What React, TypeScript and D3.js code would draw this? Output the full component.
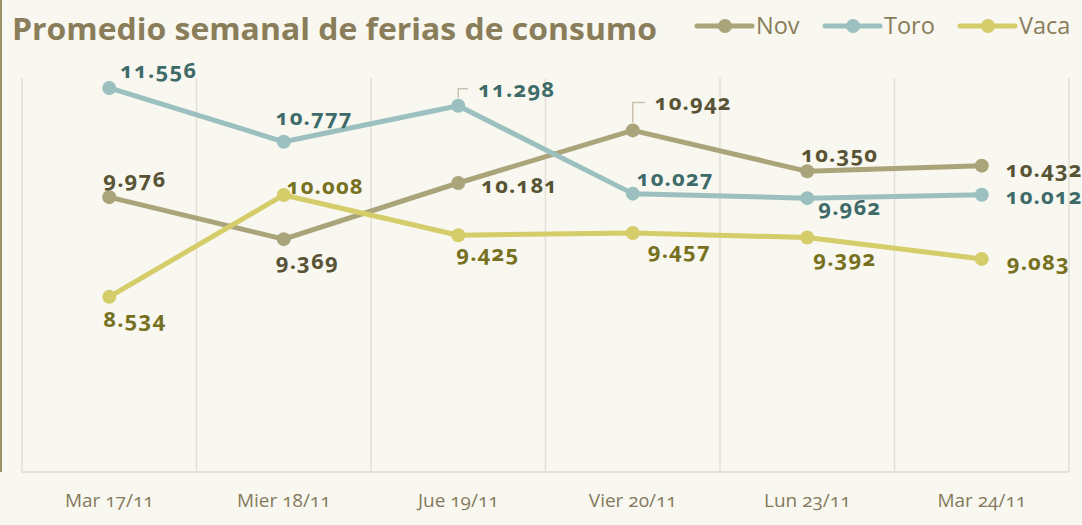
import React from "react";
import * as d3 from "d3";

const categories = ["Mar 17/11", "Mier 18/11", "Jue 19/11", "Vier 20/11", "Lun 23/11", "Mar 24/11"];
const seriesNames = ["Nov", "Toro", "Vaca"];
const novValues = [9976, 9369, 10181, 10942, 10350, 10432];
const toroValues = [11556, 10777, 11298, 10027, 9962, 10012];
const vacaValues = [8534, 10008, 9425, 9457, 9392, 9083];

const W = 1082, H = 525;
const FONT = "'Open Sans', 'Noto Sans', sans-serif";

// label offsets [dx (start of text), dy (baseline)] relative to point
const labelPos: Record<string, [number, number][]> = {
  Nov: [[-6, -10], [-8, 30], [23, 10], [22, -20], [-6, -9], [24, 11]],
  Toro: [[11, -10], [-8, -17], [20, -9], [4, -8], [11, 17], [24, 9]],
  Vaca: [[-6, 30], [3, -1], [-2, 26], [15, 25], [6, 28], [25, 11]],
};
const leader: Record<string, boolean[]> = {
  Nov: [false, false, false, true, false, false],
  Toro: [false, false, true, false, false, false],
  Vaca: [false, false, false, false, false, false],
};

const lineColors = ["#a9a479", "#9cc0bf", "#d5cc6a"];
const labelColors = ["#575334", "#3e6a69", "#77711f"];

export default function App() {
  const x = d3.scaleBand<string>().domain(categories).range([22, 1069]);
  const y = d3.scaleLinear().domain([6000, 11700]).range([472, 78]);
  const fmt = (v: number) => d3.format(",")(v).replace(/,/g, ".");
  const data = [novValues, toroValues, vacaValues];
  const line = d3
    .line<number>()
    .x((_, i) => (x(categories[i]) as number) + x.bandwidth() / 2)
    .y((d) => y(d));
  const gridXs = categories.map((c) => x(c) as number).concat([x.range()[1]]);
  const legendX = [697, 825, 960];

  return (
    <svg width={W} height={H} style={{ position: "absolute", left: 0, top: 0, fontFamily: FONT }}>
      <rect x={0} y={0} width={W} height={H} fill="#f8f7f0" />
      <line x1={1} x2={1} y1={0} y2={472} stroke="#9a9166" strokeWidth={2} />
      {gridXs.map((gx, i) => (
        <line key={i} x1={gx} x2={gx} y1={78} y2={472} stroke="#e2e0d8" strokeWidth={1.5} />
      ))}
      <line x1={22} x2={1069} y1={472} y2={472} stroke="#e2e0d8" strokeWidth={2} />
      {categories.map((c) => (
        <text
          key={c}
          x={(x(c) as number) + x.bandwidth() / 2}
          y={507}
          textAnchor="middle"
          fontSize={19}
          fill="#857a5c"
          style={{ fontVariantNumeric: "oldstyle-nums" }}
        >
          {c}
        </text>
      ))}
      <text x={12} y={40} fontSize={30} fontWeight="bold" fill="#8a7d5a" textLength={645} lengthAdjust="spacingAndGlyphs">
        Promedio semanal de ferias de consumo
      </text>
      {seriesNames.map((s, k) => (
        <g key={s}>
          <line x1={legendX[k]} x2={legendX[k] + 55} y1={26} y2={26} stroke={lineColors[k]} strokeWidth={5} strokeLinecap="round" />
          <circle cx={legendX[k] + 28} cy={26} r={7} fill={lineColors[k]} />
          <text x={legendX[k] + 59} y={34} fontSize={23.5} fill="#8a7d5a">
            {s}
          </text>
        </g>
      ))}
      {data.map((vals, k) => (
        <g key={seriesNames[k]}>
          <path d={line(vals) || ""} fill="none" stroke={lineColors[k]} strokeWidth={5} strokeLinejoin="round" />
          {vals.map((v, i) => {
            const cx = (x(categories[i]) as number) + x.bandwidth() / 2;
            const cy = y(v);
            return <circle key={i} cx={cx} cy={cy} r={7} fill={lineColors[k]} />;
          })}
        </g>
      ))}
      {data.map((vals, k) =>
        vals.map((v, i) => {
          const cx = (x(categories[i]) as number) + x.bandwidth() / 2;
          const cy = y(v);
          const [dx, dy] = labelPos[seriesNames[k]][i];
          const hasLeader = leader[seriesNames[k]][i];
          return (
            <g key={`${k}-${i}`}>
              {hasLeader && (
                <polyline
                  points={`${cx},${cy - 8} ${cx},${cy + dy - 8} ${cx + dx - 10},${cy + dy - 8}`}
                  fill="none"
                  stroke="#c9c2ae"
                  strokeWidth={1.5}
                />
              )}
              <text
                x={cx + dx}
                y={cy + dy}
                fontSize={22}
                fontWeight="bold"
                fill={labelColors[k]}
                style={{ fontVariantNumeric: "oldstyle-nums", letterSpacing: "1.2px" }}
              >
                {fmt(v)}
              </text>
            </g>
          );
        })
      )}
    </svg>
  );
}
